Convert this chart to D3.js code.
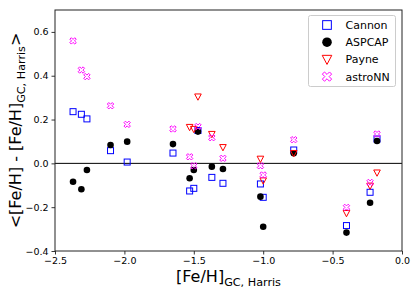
<!DOCTYPE html>
<html>
<head>
<meta charset="utf-8">
<script src="https://cdn.jsdelivr.net/npm/d3@7"></script>
<style>
  html, body { margin: 0; padding: 0; background: #fff; }
  svg { display: block; font-family: "DejaVu Sans", sans-serif; }
</style>
</head>
<body>
<svg id="chart" width="416" height="293"></svg>
<script>
// DATA
const feh = [-2.37, -2.31, -2.27, -2.10, -1.98, -1.65, -1.53, -1.50, -1.47, -1.37, -1.29, -1.02, -1.00, -0.78, -0.40, -0.23, -0.18];
const cannon = [0.236, 0.224, 0.203, 0.058, 0.006, 0.047, -0.126, -0.114, 0.150, -0.064, -0.091, -0.094, -0.155, 0.061, -0.284, -0.132, 0.111];
const aspcap = [-0.084, -0.118, -0.030, 0.084, 0.099, 0.088, -0.068, -0.030, 0.145, -0.015, -0.026, -0.152, -0.289, 0.046, -0.316, -0.180, 0.102];
const payne = [null, null, null, null, null, null, 0.165, 0.156, 0.304, 0.133, 0.073, 0.020, -0.079, 0.046, -0.228, -0.103, -0.043];
const astronn = [0.559, 0.426, 0.396, 0.263, 0.178, 0.157, 0.030, -0.011, 0.168, 0.117, 0.023, -0.011, -0.053, 0.108, -0.201, -0.087, 0.134];

const xTicks = [-2.5, -2.0, -1.5, -1.0, -0.5, 0.0];
const yTicks = [-0.4, -0.2, 0.0, 0.2, 0.4, 0.6];

const seriesList = [
  { name: "Cannon", values: cannon, color: "#0000ff", shape: "square" },
  { name: "ASPCAP", values: aspcap, color: "#000000", shape: "circle" },
  { name: "Payne", values: payne, color: "#ff0000", shape: "tri" },
  { name: "astroNN", values: astronn, color: "#ff00ff", shape: "x" }
];

// LAYOUT
const margin = { left: 55, right: 402, top: 10, bottom: 251 };
const svg = d3.select("#chart");

const x = d3.scaleLinear().domain([-2.5, 0]).range([margin.left, margin.right]);
const y = d3.scaleLinear().domain([-0.4, 0.7]).range([margin.bottom, margin.top]);
const fmt = d3.format(".1f");

// MARKERS
function xMarker(h, t) {
  const b = t * Math.SQRT2;
  const pts = [[0, -b], [h - b, -h], [h, -h + b], [b, 0], [h, h - b], [h - b, h],
    [0, b], [-h + b, h], [-h, h - b], [-b, 0], [-h, -h + b], [-h + b, -h]];
  return "M" + pts.map(p => p.join(",")).join("L") + "Z";
}

function drawMarker(g, shape, color, k) {
  if (shape === "square") {
    g.append("rect").attr("x", -3 * k).attr("y", -3 * k).attr("width", 6 * k).attr("height", 6 * k)
      .attr("fill", "none").attr("stroke", color).attr("stroke-width", 1);
  } else if (shape === "circle") {
    g.append("circle").attr("r", 3.3 * k).attr("fill", color);
  } else if (shape === "tri") {
    const w = 3.3 * k;
    g.append("path").attr("d", `M${-w},${-w * 0.85}L${w},${-w * 0.85}L0,${w * 1.05}Z`)
      .attr("fill", "none").attr("stroke", color).attr("stroke-width", 1);
  } else {
    g.append("path").attr("d", xMarker(3.2 * k, 1.05 * k))
      .attr("fill", "none").attr("stroke", color).attr("stroke-width", 1);
  }
}

// AXES
const xAxis = d3.axisBottom(x).tickValues(xTicks).tickFormat(fmt).tickSizeOuter(0).tickSize(3.5).tickPadding(3);
const yAxis = d3.axisLeft(y).tickValues(yTicks).tickFormat(fmt).tickSizeOuter(0).tickSize(3.5).tickPadding(3);

const gx = svg.append("g").attr("transform", `translate(0,${margin.bottom})`).call(xAxis);
const gy = svg.append("g").attr("transform", `translate(${margin.left},0)`).call(yAxis);
[gx, gy].forEach(g => {
  g.select(".domain").remove();
  g.selectAll("text").attr("font-size", 9.5).attr("fill", "#000").attr("font-family", "DejaVu Sans");
  g.selectAll("line").attr("stroke", "#000").attr("stroke-width", 0.8);
});

// zero line
svg.append("line")
  .attr("x1", margin.left).attr("x2", margin.right)
  .attr("y1", y(0)).attr("y2", y(0))
  .attr("stroke", "#000").attr("stroke-width", 1);

// POINTS
seriesList.forEach(s => {
  const layer = svg.append("g");
  s.values.forEach((v, i) => {
    if (v === null) return;
    const g = layer.append("g").attr("transform", `translate(${x(feh[i])},${y(v)})`);
    drawMarker(g, s.shape, s.color, 1);
  });
});

// frame
svg.append("rect")
  .attr("x", margin.left).attr("y", margin.top)
  .attr("width", margin.right - margin.left).attr("height", margin.bottom - margin.top)
  .attr("fill", "none").attr("stroke", "#222").attr("stroke-width", 1);

// LEGEND
const legend = svg.append("g");
legend.append("rect")
  .attr("x", 308.5).attr("y", 15.5).attr("width", 87).attr("height", 71).attr("rx", 2)
  .attr("fill", "#fff").attr("fill-opacity", 0.8).attr("stroke", "#ccc").attr("stroke-width", 1);
seriesList.forEach((s, i) => {
  const ly = 25 + i * 17.2;
  const g = legend.append("g").attr("transform", `translate(327,${ly})`);
  drawMarker(g, s.shape, s.color, 1.45);
  legend.append("text").attr("x", 345.5).attr("y", ly).attr("dy", "0.36em")
    .attr("font-size", 11).attr("fill", "#000").text(s.name);
});

// AXIS TITLES
const xt = svg.append("text")
  .attr("x", (margin.left + margin.right) / 2).attr("y", 282)
  .attr("text-anchor", "middle").attr("font-size", 16).attr("fill", "#000");
xt.append("tspan").text("[Fe/H]");
xt.append("tspan").attr("font-size", 11.2).attr("dy", 4).text("GC, Harris");

const yt = svg.append("text")
  .attr("transform", `translate(21,${(margin.top + margin.bottom) / 2}) rotate(-90)`)
  .attr("text-anchor", "middle").attr("font-size", 16).attr("fill", "#000");
yt.append("tspan").text("<[Fe/H] - [Fe/H]");
yt.append("tspan").attr("font-size", 11.2).attr("dy", 4).text("GC, Harris");
yt.append("tspan").attr("dy", -4).text(">");
</script>
</body>
</html>
